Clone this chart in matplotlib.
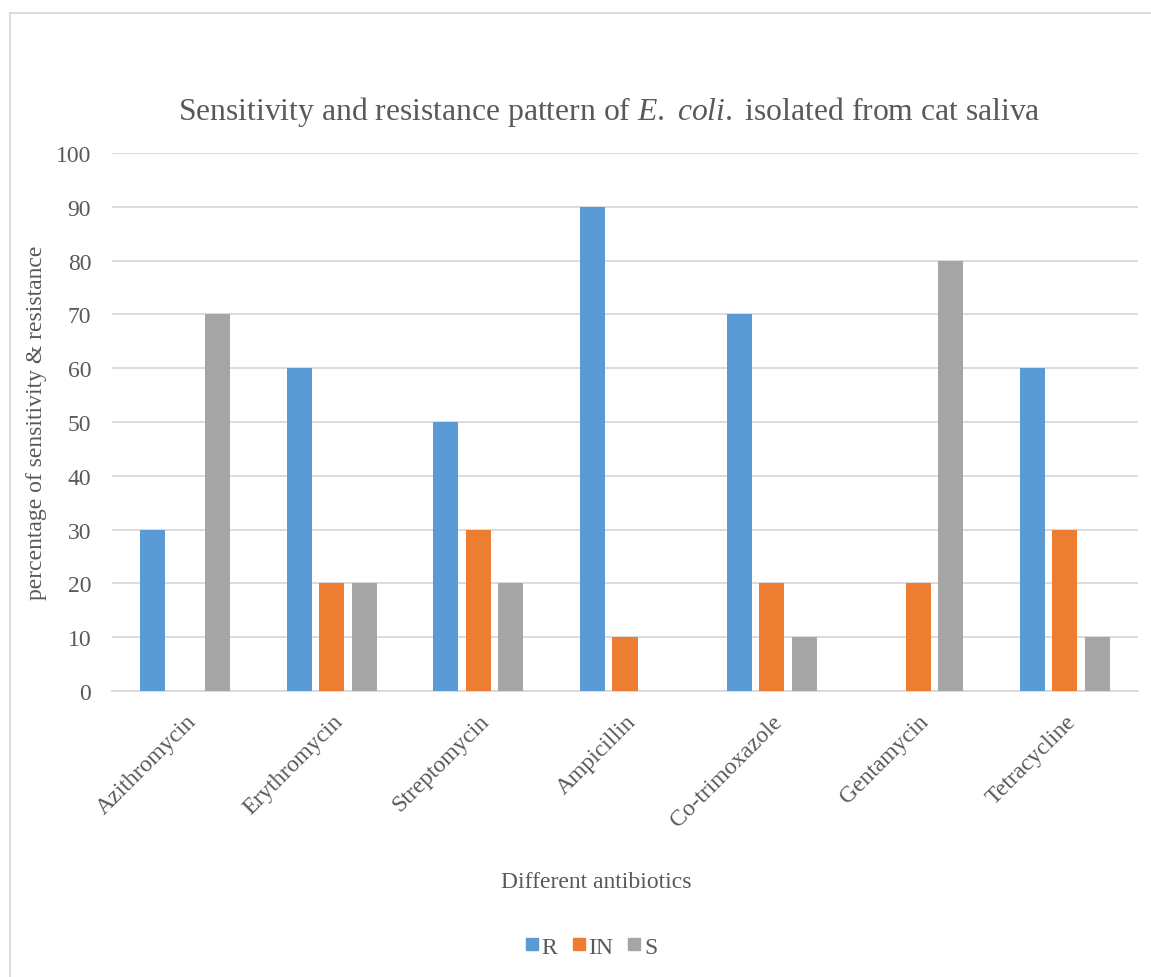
import numpy as np
import matplotlib.pyplot as plt
from matplotlib.lines import Line2D

# adatok
antibiotics = ["Azithromycin", "Erythromycin", "Streptomycin", "Ampicillin",
               "Co-trimoxazole", "Gentamycin", "Tetracycline"]
r_vals = [30, 60, 50, 90, 70, 0, 60]
in_vals = [0, 20, 30, 10, 20, 20, 30]
s_vals = [70, 20, 20, 0, 10, 80, 10]
series_names = ["R", "IN", "S"]
colors = ["#5B9BD5", "#ED7D31", "#A5A5A5"]
yticks = [0, 10, 20, 30, 40, 50, 60, 70, 80, 90, 100]

plt.rcParams["font.family"] = ["Liberation Serif", "DejaVu Serif"]
plt.rcParams["mathtext.fontset"] = "custom"
plt.rcParams["mathtext.rm"] = "Liberation Serif"
plt.rcParams["mathtext.it"] = "Liberation Serif:italic"
txt = "#595959"

fig = plt.figure(figsize=(11.51, 9.78), dpi=100)
W, H = 1151, 978
ax = fig.add_axes([112 / W, (H - 692) / H, (1138 - 112) / W, (692 - 154) / H])

x = np.arange(len(antibiotics))
width = 0.171
step = 0.222
for i, vals in enumerate([r_vals, in_vals, s_vals]):
    ax.bar(x + (i - 1) * step, vals, width, color=colors[i], zorder=3)

ax.set_xlim(-0.5, len(antibiotics) - 0.5)
ax.set_ylim(0, 100)
ax.set_yticks(yticks)
ax.set_yticklabels([str(v) for v in yticks], fontsize=17, color=txt)
ax.yaxis.grid(True, color="#D9D9D9", linewidth=1.3, zorder=0)
ax.set_xticks(x)
ax.set_xticklabels(antibiotics, rotation=45, ha="right", rotation_mode="anchor",
                   fontsize=17, color=txt)
ax.tick_params(axis="both", length=0)
ax.tick_params(axis="y", pad=15)
ax.tick_params(axis="x", pad=14)
for s in ["top", "right", "left"]:
    ax.spines[s].set_visible(False)
ax.spines["bottom"].set_color("#D9D9D9")
ax.spines["bottom"].set_linewidth(1.3)

fig.text(609 / W, 1 - 112 / H,
         "Sensitivity and resistance pattern of $\\mathit{E.}$ $\\mathit{coli.}$ isolated from cat saliva",
         ha="center", va="center", fontsize=22.8, color=txt)
fig.text(37 / W, 1 - 423 / H, "percentage of sensitivity & resistance", rotation=90,
         ha="center", va="center", fontsize=17, color=txt)
fig.text(596 / W, 1 - 883 / H, "Different antibiotics", ha="center", va="center",
         fontsize=17, color=txt)

handles = [Line2D([], [], marker="s", linestyle="none", markersize=9, color=c) for c in colors]
leg = fig.legend(handles, series_names, loc="center", bbox_to_anchor=(590 / W, 1 - 948 / H),
                 ncol=3, frameon=False, fontsize=17, handletextpad=0.0, columnspacing=0.5,
                 handlelength=0.8)
for t in leg.get_texts():
    t.set_color(txt)

# keret
fig.add_artist(Line2D([10 / W, 10 / W], [0, 1 - 14 / H], transform=fig.transFigure, color="#D9D9D9", linewidth=1.3))
fig.add_artist(Line2D([10 / W, 1], [1 - 14 / H, 1 - 14 / H], transform=fig.transFigure, color="#D9D9D9", linewidth=1.3))

plt.savefig("out.png", dpi=100)
